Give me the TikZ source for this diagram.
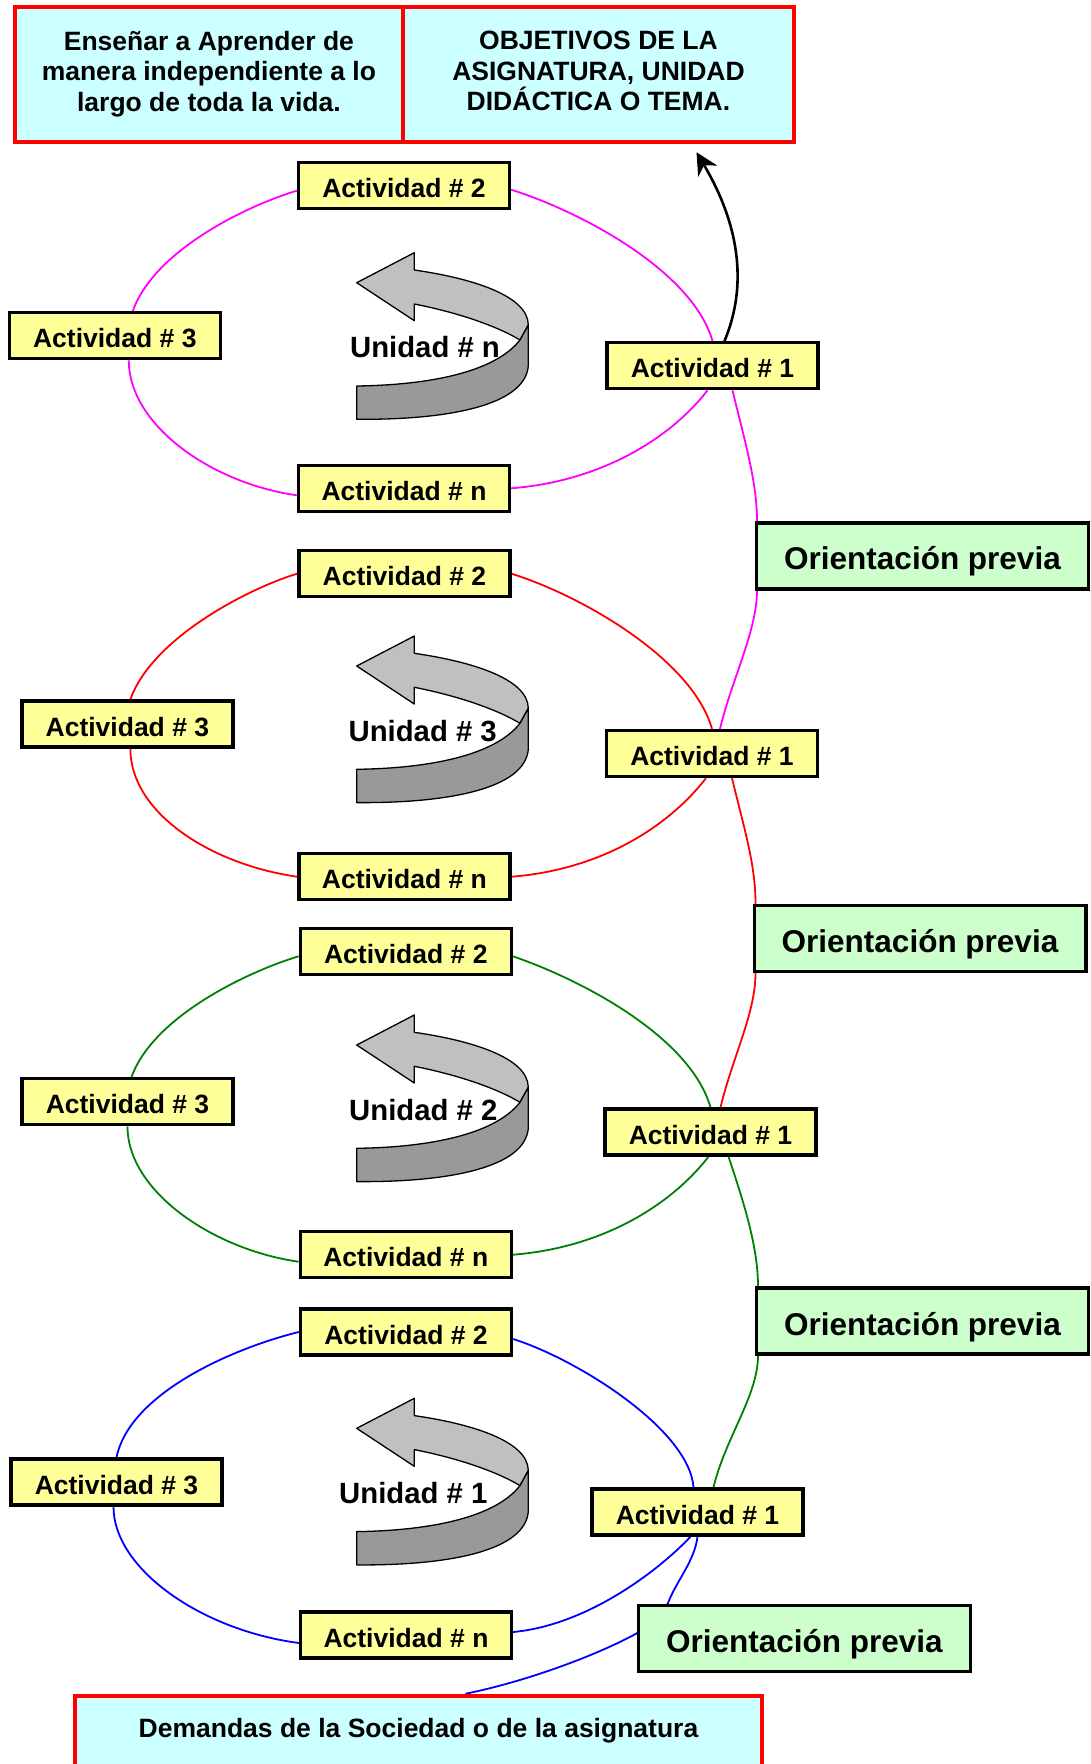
\documentclass[tikz,border=0pt]{standalone}
\usepackage{fontspec}
\setmainfont{Liberation Sans}
\usetikzlibrary{arrows.meta,backgrounds}
\definecolor{cyanfill}{HTML}{CCFFFF}
\definecolor{yelfill}{HTML}{FFFF99}
\definecolor{grnfill}{HTML}{CCFFCC}
\definecolor{lgray}{HTML}{C0C0C0}
\definecolor{dgray}{HTML}{999999}
\definecolor{dkgreen}{HTML}{008000}
\definecolor{magline}{HTML}{FF00FF}
\definecolor{redline}{HTML}{FF0000}
\definecolor{blueline}{HTML}{0000FF}
\tikzset{
  actbox/.style={draw=black, line width=3.3pt, fill=yelfill, minimum width=211pt, minimum height=46pt, inner sep=0pt, text height=24pt, text depth=0pt, font=\fontsize{26.5}{30}\selectfont\bfseries},
  oribox/.style={draw=black, line width=3.3pt, fill=grnfill, minimum width=331.7pt, minimum height=66pt, inner sep=0pt, text height=30pt, text depth=2pt, font=\fontsize{31.5}{36}\selectfont\bfseries},
  redbox/.style={draw=redline, line width=4.5pt, fill=cyanfill, inner sep=0pt},
  plaintext/.style={inner sep=0pt, align=center, font=\fontsize{26.5}{30.5}\selectfont\bfseries},
  unitext/.style={inner sep=0pt, anchor=base, font=\fontsize{29.3}{33}\selectfont\bfseries},
  link/.style={line width=1.8pt},
  arrowpart/.style={draw=black, line width=1.3pt, line join=round},
  unidadarrow/.pic={
    \path[arrowpart, fill=lgray] (414.3,270) .. controls (470,278) and (528,295) .. (528.3,325) -- (520,340) .. controls (495,325) and (455,312) .. (414.3,304) -- (414.3,320.7) -- (356.7,282.7) -- (414.3,252.7) -- cycle;
    \path[arrowpart, fill=dgray] (528.3,325) -- (528.3,366) .. controls (525,405) and (450,420) .. (356.7,419.3) -- (356.7,386) .. controls (430,385) and (495,372) .. (520,340) -- cycle;
  }
}
\begin{document}
\begin{tikzpicture}[x=1pt,y=-1pt]
\path[use as bounding box] (0,0) rectangle (1091,1764);
\clip (0,0) rectangle (1091,1764);

% top boxes
\node[redbox, minimum width=388.2pt, minimum height=135pt] (tl) at (208.9,74.5) {};
\node[redbox, minimum width=391pt, minimum height=135pt] (tr) at (598.5,74.5) {};
\node[plaintext] (tltext) at (208.9,74) {Enseñar a Aprender de\\manera independiente a lo\\largo de toda la vida.};
\node[plaintext] (trtext) at (598.5,71) {OBJETIVOS DE LA\\ASIGNATURA, UNIDAD\\DIDÁCTICA O TEMA.};

% bottom box
\node[redbox, minimum width=687pt, minimum height=140pt, anchor=north] (demand) at (418.5,1693.7) {};
\node[plaintext, anchor=base] (demandtext) at (418.5,1737) {Demandas de la Sociedad o de la asignatura};

% unit arrows
\pic at (0,0) {unidadarrow};
\pic at (0,383.3) {unidadarrow};
\pic at (0,762.3) {unidadarrow};
\pic at (0,1145.6) {unidadarrow};
\node[unitext] (un) at (425,357.7) {Unidad \# n};
\node[unitext] (u3) at (422.7,741) {Unidad \# 3};
\node[unitext] (u2) at (423.3,1120) {Unidad \# 2};
\node[unitext] (u1) at (413.3,1503.3) {Unidad \# 1};

% cycle n (magenta)
\node[actbox] (A2n) at (404,185.7) {Actividad \# 2};
\node[actbox] (A3n) at (114.8,335.7) {Actividad \# 3};
\node[actbox] (A1n) at (712.5,365.7) {Actividad \# 1};
\node[actbox] (Ann) at (404,488.3) {Actividad \# n};
\node[oribox] (O1) at (922.5,555.9) {Orientación previa};

% cycle 3 (red)
\node[actbox] (A23) at (404.4,573.7) {Actividad \# 2};
\node[actbox] (A33) at (127.4,724) {Actividad \# 3};
\node[actbox] (A13) at (712,753.5) {Actividad \# 1};
\node[actbox] (An3) at (404.4,876.7) {Actividad \# n};
\node[oribox] (O2) at (920,938.5) {Orientación previa};

% cycle 2 (green)
\node[actbox] (A22) at (405.8,951.3) {Actividad \# 2};
\node[actbox] (A32) at (127.5,1101.8) {Actividad \# 3};
\node[actbox] (A12) at (710.5,1132) {Actividad \# 1};
\node[actbox] (An2) at (405.8,1254.7) {Actividad \# n};
\node[oribox] (O3) at (922.5,1321) {Orientación previa};

% cycle 1 (blue)
\node[actbox] (A21) at (406,1332) {Actividad \# 2};
\node[actbox] (A31) at (116.5,1482) {Actividad \# 3};
\node[actbox] (A11) at (697.5,1512) {Actividad \# 1};
\node[actbox] (An1) at (406,1635) {Actividad \# n};
\node[oribox] (O4) at (804.3,1638.3) {Orientación previa};

% black arrow to objectives
\draw[line width=2.6pt, -{Stealth[length=22pt,width=22pt,inset=7pt]}] ([xshift=12pt]A1n.north) .. controls +(27.5,-66) and +(35.5,60) .. ([xshift=98pt,yshift=-8pt]tr.south);

\begin{scope}[on background layer]
% magenta
\draw[link, magline] ([yshift=-5pt]A2n.west) .. controls +(-47,14) and +(22,-62) .. ([xshift=18pt]A3n.north);
\draw[link, magline] ([xshift=14pt]A3n.south) .. controls +(0,65) and +(-85,-12) .. ([yshift=-7pt]Ann.west);
\draw[link, magline] (Ann.east) .. controls +(89,-7) and +(-38,49) .. ([xshift=-5pt]A1n.south);
\draw[link, magline] ([yshift=-4pt]A2n.east) .. controls +(70,22) and +(-20,-70) .. (A1n.north);
\draw[link, magline] ([xshift=20pt]A1n.south) .. controls +(12,50) and +(0,-40) .. ([xshift=2pt]O1.north west) -- ([xshift=2pt]O1.south west) .. controls +(0,40) and +(12,-50) .. ([xshift=8pt]A13.north);
% red
\draw[link, redline] (A23.west) .. controls +(-47,14) and +(22,-62) .. ([xshift=3pt]A33.north);
\draw[link, redline] ([xshift=3pt]A33.south) .. controls +(0,65) and +(-85,-12) .. (An3.west);
\draw[link, redline] (An3.east) .. controls +(89,-7) and +(-38,49) .. ([xshift=-6pt]A13.south);
\draw[link, redline] (A23.east) .. controls +(70,22) and +(-20,-70) .. (A13.north);
\draw[link, redline] ([xshift=20pt]A13.south) .. controls +(12,50) and +(0,-40) .. ([xshift=3pt]O2.north west) -- ([xshift=3pt]O2.south west) .. controls +(0,40) and +(12,-50) .. ([xshift=10pt]A12.north);
% green
\draw[link, dkgreen] ([yshift=-5pt]A22.west) .. controls +(-47,14) and +(22,-62) .. ([xshift=4pt]A32.north);
\draw[link, dkgreen] (A32.south) .. controls +(0,65) and +(-85,-12) .. ([yshift=-7pt]An2.west);
\draw[link, dkgreen] (An2.east) .. controls +(89,-7) and +(-38,49) .. ([xshift=-2pt]A12.south);
\draw[link, dkgreen] ([yshift=-5pt]A22.east) .. controls +(70,24) and +(-20,-70) .. (A12.north);
\draw[link, dkgreen] ([xshift=18pt]A12.south) .. controls +(15,45) and +(0,-40) .. ([xshift=3pt]O3.north west) -- ([xshift=3pt]O3.south west) .. controls +(0,40) and +(12,-50) .. ([xshift=16pt]A11.north);
% blue
\draw[link, blueline] (A21.west) .. controls +(-58,14) and +(14,-67) .. (A31.north);
\draw[link, blueline] ([xshift=-3pt]A31.south) .. controls +(0,62) and +(-98,-13) .. ([yshift=-8pt]An1.west);
\draw[link, blueline] ([yshift=3pt]An1.east) .. controls +(75,-7) and +(-31,33) .. ([xshift=-7pt]A11.south);
\draw[link, blueline] ([yshift=-7pt]A21.east) .. controls +(66,21) and +(-4,-57) .. ([xshift=-4pt]A11.north);
\draw[link, blueline] (A11.south) .. controls +(-3,25) and +(8,-22) .. ([xshift=31pt]O4.north west) -- ([yshift=5pt]O4.west) .. controls +(-40,22) and +(60,-12) .. ([xshift=47pt]demand.north);
\end{scope}
\end{tikzpicture}
\end{document}
